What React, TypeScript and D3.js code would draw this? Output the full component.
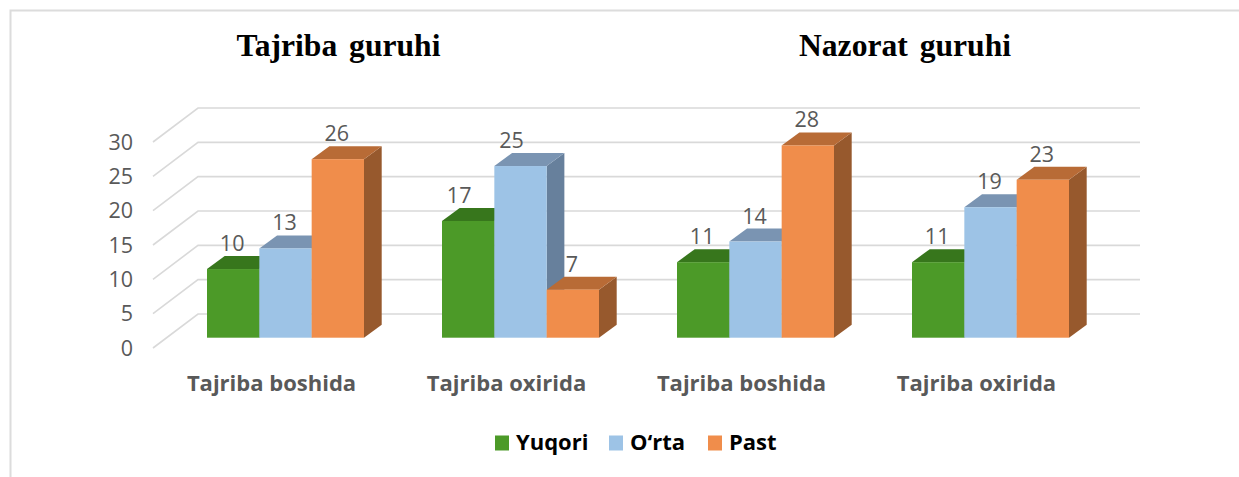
import React from "react";
import * as d3 from "d3";

const groups = ["Tajriba boshida", "Tajriba oxirida", "Tajriba boshida ", "Tajriba oxirida "];
const seriesNames = ["Yuqori", "O‘rta", "Past"];
const yuqori = [10, 17, 11, 11];
const orta = [13, 25, 14, 19];
const past = [26, 7, 28, 23];
const yTicks = [0, 5, 10, 15, 20, 25, 30];
const titles = ["Tajriba guruhi", "Nazorat guruhi"];

const front = ["#4c9a28", "#9dc3e6", "#f08d4b"];
const top = ["#37761c", "#7a94b2", "#b86b36"];
const side = ["#2f6616", "#67809c", "#97592d"];
const values = [yuqori, orta, past];

const W = 1239, H = 477;
const yBar = d3.scaleLinear().domain([0, 30]).range([337.7, 131.7]);
const yBack = d3.scaleLinear().domain([0, 30]).range([314, 108]);
const yFront = d3.scaleLinear().domain([0, 30]).range([348, 142]);
const xGroup = d3.scaleBand().domain(groups).range([207, 1069]).paddingInner(0.3319);
const xSeries = d3.scaleBand().domain(seriesNames).range([0, xGroup.bandwidth()]);
const barDx = 17.7, barDy = -13;

export default function App() {
  const bw = xSeries.bandwidth();
  const marks: React.ReactNode[] = [];
  groups.forEach((g, gi) => {
    seriesNames.forEach((s, si) => {
      const x = (xGroup(g) as number) + (xSeries(s) as number);
      const v = values[si][gi];
      const yT = yBar(v), y0 = yBar(0);
      marks.push(
        <g key={g + s}>
          <polygon fill={side[si]} points={`${x + bw},${yT} ${x + bw + barDx},${yT + barDy} ${x + bw + barDx},${y0 + barDy} ${x + bw},${y0}`} />
          <polygon fill={top[si]} points={`${x},${yT} ${x + barDx},${yT + barDy} ${x + bw + barDx},${yT + barDy} ${x + bw},${yT}`} />
          <rect x={x} y={yT} width={bw} height={y0 - yT} fill={front[si]} />
        </g>
      );
    });
  });
  const labels: React.ReactNode[] = [];
  groups.forEach((g, gi) => {
    seriesNames.forEach((s, si) => {
      const x = (xGroup(g) as number) + (xSeries(s) as number);
      const v = values[si][gi];
      const nudge = gi === 1 && si < 2 ? -9 : -1;
      labels.push(
        <text key={g + s} x={x + bw / 2 + nudge} y={yBar(v) - 18} textAnchor="middle" fontSize={21.5} fill="#595959">{v}</text>
      );
    });
  });
  const legendX = [495, 609, 708];
  return (
    <svg width={W} height={H} viewBox={`0 0 ${W} ${H}`} style={{ position: "absolute", left: 0, top: 0, background: "#fff", fontFamily: "'Open Sans', sans-serif" }}>
      <path d={`M10.5 ${H}V10.5H${W}`} fill="none" stroke="#dcdcdc" strokeWidth={2} />
      {yTicks.map((t) => (
        <path key={t} d={`M153 ${yFront(t)}L198 ${yBack(t)}H1140`} fill="none" stroke="#d9d9d9" strokeWidth={1.6} />
      ))}
      {yTicks.map((t) => (
        <text key={t} x={133} y={yFront(t) + 7.5} textAnchor="end" fontSize={21.5} fill="#595959">{t}</text>
      ))}
      {marks}
      {labels}
      {groups.map((g) => (
        <text key={g} x={(xGroup(g) as number) + xGroup.bandwidth() / 2 - 14} y={391} textAnchor="middle" fontSize={22} fontWeight={700} fill="#595959">{g.trim()}</text>
      ))}
      <text x={338.5} y={56} textAnchor="middle" fontFamily="'Liberation Serif', serif" fontWeight={700} fontSize={31.6} fill="#000" style={{ wordSpacing: 4 }}>{titles[0]}</text>
      <text x={905} y={56} textAnchor="middle" fontFamily="'Liberation Serif', serif" fontWeight={700} fontSize={31.6} fill="#000" style={{ wordSpacing: 4 }}>{titles[1]}</text>
      {seriesNames.map((s, i) => (
        <g key={s}>
          <rect x={legendX[i]} y={435.5} width={14} height={15} fill={front[i]} />
          <text x={legendX[i] + 21} y={450} fontSize={22} fontWeight={700} fill="#000">{s}</text>
        </g>
      ))}
    </svg>
  );
}
